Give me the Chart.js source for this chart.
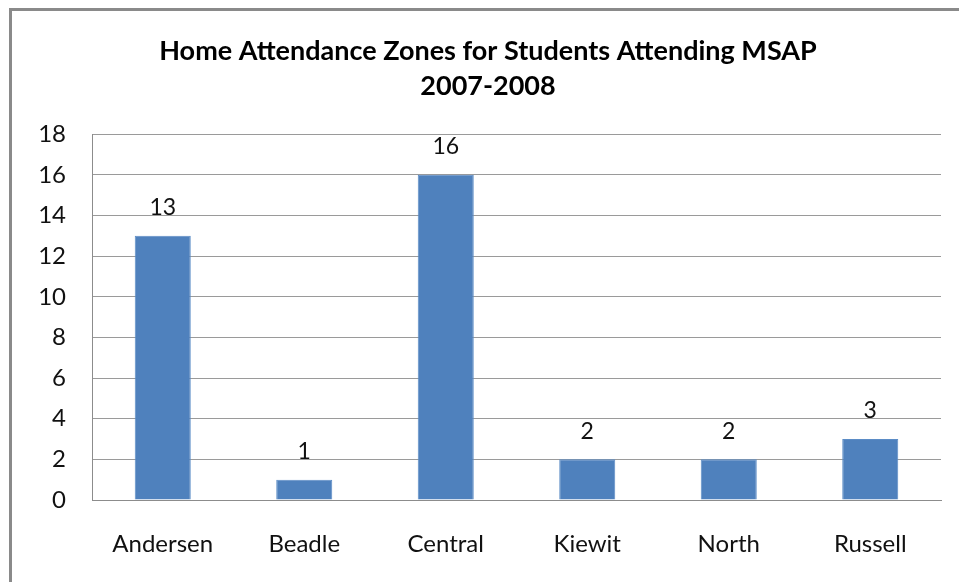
<!DOCTYPE html>
<html lang="en">
<head>
    <meta charset="UTF-8" />
    <title>Home Attendance Zones</title>
    <script src="https://cdn.jsdelivr.net/npm/chart.js"></script>
    <style>
        html, body { margin: 0; padding: 0; background: #fff; overflow: hidden; }
        #wrap { position: relative; width: 959px; height: 582px; }
        #frame {
            position: absolute; left: 9px; top: 8px; width: 1000px; height: 700px;
            border-left: 3px solid #8a8a8a; border-top: 3px solid #8a8a8a;
        }
        canvas { position: absolute; left: 0; top: 0; }
    </style>
</head>
<body>
<div id="wrap">
    <div id="frame"></div>
    <canvas id="myChart" width="959" height="582"></canvas>
</div>

<script>
    // dados do gráfico
    const zonas = ['Andersen', 'Beadle', 'Central', 'Kiewit', 'North', 'Russell'];
    const alunos = [13, 1, 16, 2, 2, 3];
    const titulo = ['Home Attendance Zones for Students Attending MSAP', '2007-2008'];

    const fonte = "Lato, 'Open Sans', sans-serif";

    // escreve o valor acima de cada barra
    const rotulos = {
        id: 'rotulos',
        afterDatasetsDraw(chart) {
            const ctx = chart.ctx;
            const meta = chart.getDatasetMeta(0);
            ctx.save();
            ctx.font = '23px ' + fonte;
            ctx.fillStyle = '#111';
            ctx.textAlign = 'center';
            ctx.textBaseline = 'middle';
            meta.data.forEach((bar, i) => {
                ctx.fillText(String(alunos[i]), bar.x, bar.y - 28);
            });
            ctx.restore();
        }
    };

    const ctx = document.getElementById('myChart').getContext('2d');

    new Chart(ctx, {
        type: 'bar',
        data: {
            labels: zonas,
            datasets: [{
                data: alunos,
                backgroundColor: '#4f81bd',
                borderColor: '#5b8cc6',
                borderWidth: 1,
                categoryPercentage: 1,
                barPercentage: 0.396
            }]
        },
        options: {
            responsive: false,
            animation: false,
            layout: { padding: { left: 35, right: 18, top: 0, bottom: 0 } },
            plugins: {
                legend: { display: false },
                tooltip: { enabled: false },
                title: {
                    display: true,
                    text: titulo,
                    color: '#000',
                    font: { family: fonte, size: 27, weight: 'bold', lineHeight: 1.3 },
                    padding: { top: 34, bottom: 30 }
                }
            },
            scales: {
                x: {
                    grid: { display: false },
                    border: { display: true, color: '#8c8c8c' },
                    ticks: {
                        color: '#111',
                        font: { family: fonte, size: 24 },
                        padding: 22
                    },
                    afterFit(scale) { scale.height = 82; }
                },
                y: {
                    min: 0,
                    max: 18,
                    grid: { color: '#9a9a9a', drawTicks: false },
                    border: { display: true, color: '#8c8c8c' },
                    ticks: {
                        stepSize: 2,
                        color: '#111',
                        font: { family: fonte, size: 24 },
                        padding: 26
                    },
                    afterFit(scale) { scale.width = 57; }
                }
            }
        },
        plugins: [rotulos]
    });
</script>
</body>
</html>
